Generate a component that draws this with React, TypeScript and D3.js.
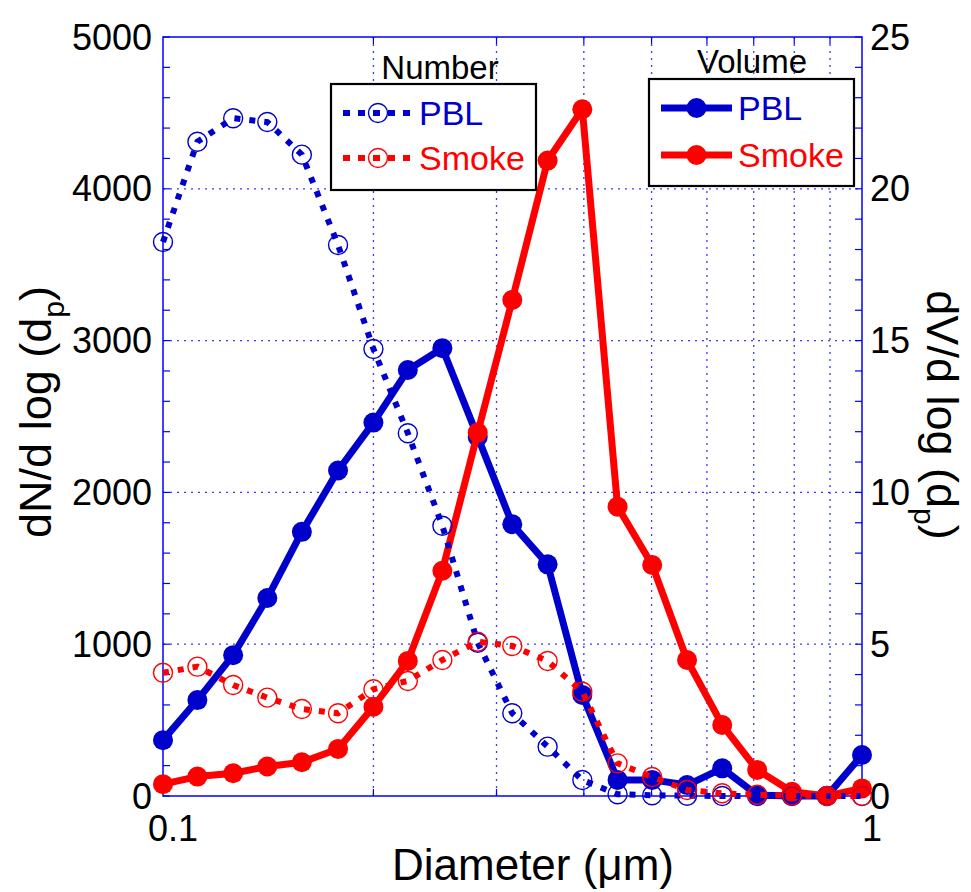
import React, { useEffect, useRef } from "react";
import * as d3 from "d3";

// particle diameters (um), 20 bins per decade
const diameters = [
  0.1, 0.112, 0.126, 0.141, 0.158, 0.178, 0.2, 0.224, 0.251, 0.282, 0.316,
  0.355, 0.398, 0.447, 0.501, 0.562, 0.631, 0.708, 0.794, 0.891, 1.0,
];

// dN/dlog(dp) - left axis
const numberPBL = [
  3650, 4310, 4465, 4440, 4225, 3630, 2945, 2390, 1780, 1010, 545, 325, 105,
  12, 5, 2, 0, 0, 0, 0, 0,
];
const numberSmoke = [
  812, 852, 731, 648, 573, 545, 703, 758, 896, 1017, 988, 889, 687, 215, 125,
  40, 18, 8, 3, 0, 0,
];

// dV/dlog(dp) - right axis
const volumePBL = [
  1.84, 3.16, 4.64, 6.52, 8.7, 10.72, 12.3, 14.03, 14.75, 11.83, 8.95, 7.63,
  3.33, 0.53, 0.53, 0.36, 0.91, 0.03, 0, 0, 1.35,
];
const volumeSmoke = [
  0.39, 0.64, 0.75, 0.97, 1.11, 1.55, 2.94, 4.45, 7.42, 11.97, 16.34, 20.93,
  22.62, 9.53, 7.61, 4.48, 2.34, 0.86, 0.14, 0, 0.25,
];

const leftTicks = [0, 1000, 2000, 3000, 4000, 5000];
const rightTicks = [0, 5, 10, 15, 20, 25];
const xMinor = [0.2, 0.3, 0.4, 0.5, 0.6, 0.7, 0.8, 0.9];

const BLUE = "#0000cc";
const RED = "#ff0000";
const AXIS = "#0000ff";
const FONT = "'Liberation Sans', Arial, Helvetica, sans-serif";

const App = () => {
  const ref = useRef<SVGSVGElement>(null);

  useEffect(() => {
    const svg = d3.select(ref.current);
    svg.selectAll("*").remove();

    const m = { left: 163, right: 862, top: 37, bottom: 796 };

    const x = d3.scaleLog().domain([0.1, 1]).range([m.left, m.right]);
    const yL = d3.scaleLinear().domain([0, 5000]).range([m.bottom, m.top]);
    const yR = d3.scaleLinear().domain([0, 25]).range([m.bottom, m.top]);

    // grid
    const grid = svg.append("g").attr("stroke", "#3a3aff").attr("stroke-width", 1.3)
      .attr("stroke-dasharray", "2,5");
    grid.selectAll(".gx").data(xMinor).enter().append("line")
      .attr("x1", (d) => x(d)).attr("x2", (d) => x(d))
      .attr("y1", m.top).attr("y2", m.bottom);
    grid.selectAll(".gy").data(leftTicks.slice(1, -1)).enter().append("line")
      .attr("x1", m.left).attr("x2", m.right)
      .attr("y1", (d) => yL(d)).attr("y2", (d) => yL(d));

    // box
    svg.append("rect")
      .attr("x", m.left).attr("y", m.top)
      .attr("width", m.right - m.left).attr("height", m.bottom - m.top)
      .attr("fill", "none").attr("stroke", AXIS).attr("stroke-width", 1.5);

    // minor y ticks (every 200 / every 1)
    const yMinor = d3.range(0, 5001, 200);
    const ticks = svg.append("g").attr("stroke", AXIS).attr("stroke-width", 1.2);
    ticks.selectAll(".tl").data(yMinor).enter().append("line")
      .attr("x1", m.left).attr("x2", m.left + 7)
      .attr("y1", (d) => yL(d)).attr("y2", (d) => yL(d));
    ticks.selectAll(".tr").data(yMinor).enter().append("line")
      .attr("x1", m.right).attr("x2", m.right - 7)
      .attr("y1", (d) => yL(d)).attr("y2", (d) => yL(d));
    ticks.selectAll(".tb").data(xMinor).enter().append("line")
      .attr("x1", (d) => x(d)).attr("x2", (d) => x(d))
      .attr("y1", m.bottom).attr("y2", m.bottom - 7);
    ticks.selectAll(".tt").data(xMinor).enter().append("line")
      .attr("x1", (d) => x(d)).attr("x2", (d) => x(d))
      .attr("y1", m.top).attr("y2", m.top + 7);

    // tick labels
    const labels = svg.append("g").attr("font-family", FONT).attr("font-size", 36)
      .attr("fill", "#000");
    labels.selectAll(".ll").data(leftTicks).enter().append("text")
      .attr("x", m.left - 11).attr("y", (d) => yL(d)).attr("dy", "0.35em")
      .attr("text-anchor", "end").text((d) => d);
    labels.selectAll(".rl").data(rightTicks).enter().append("text")
      .attr("x", m.right + 8).attr("y", (d) => yR(d)).attr("dy", "0.35em")
      .attr("text-anchor", "start").text((d) => d);
    labels.selectAll(".xl").data([0.1, 1]).enter().append("text")
      .attr("x", (d) => x(d) + 10).attr("y", m.bottom + 45)
      .attr("text-anchor", "middle").text((d) => d);

    // axis titles
    svg.append("text")
      .attr("x", 533).attr("y", 880).attr("text-anchor", "middle")
      .attr("font-family", FONT).attr("font-size", 44)
      .text("Diameter (\u03bcm)");

    const lt = svg.append("text")
      .attr("transform", "translate(51,412) rotate(-90)")
      .attr("text-anchor", "middle")
      .attr("font-family", FONT).attr("font-size", 45);
    lt.append("tspan").text("dN/d log (d");
    lt.append("tspan").attr("font-size", 30).attr("dy", 13).text("p");
    lt.append("tspan").attr("dy", -13).text(")");

    const rt = svg.append("text")
      .attr("transform", "translate(927,415) rotate(90)")
      .attr("text-anchor", "middle")
      .attr("font-family", FONT).attr("font-size", 45);
    rt.append("tspan").text("dV/d log (d");
    rt.append("tspan").attr("font-size", 30).attr("dy", 13).text("p");
    rt.append("tspan").attr("dy", -13).text(")");

    // series
    const solid = (vals: number[], color: string) => {
      const line = d3.line<number>().x((_, i) => x(diameters[i])).y((d) => yR(d));
      svg.append("path").datum(vals).attr("d", line)
        .attr("fill", "none").attr("stroke", color).attr("stroke-width", 7)
        .attr("stroke-linejoin", "round");
      svg.append("g").selectAll("circle").data(vals).enter().append("circle")
        .attr("cx", (_, i) => x(diameters[i])).attr("cy", (d) => yR(d))
        .attr("r", 10).attr("fill", color);
    };
    const dotted = (vals: number[], color: string) => {
      const line = d3.line<number>().x((_, i) => x(diameters[i])).y((d) => yL(d));
      svg.append("path").datum(vals).attr("d", line)
        .attr("fill", "none").attr("stroke", color).attr("stroke-width", 6)
        .attr("stroke-dasharray", "6,9");
      svg.append("g").selectAll("circle").data(vals).enter().append("circle")
        .attr("cx", (_, i) => x(diameters[i])).attr("cy", (d) => yL(d))
        .attr("r", 9.5).attr("fill", "none").attr("stroke", color)
        .attr("stroke-width", 1.4);
    };
    solid(volumePBL, BLUE);
    solid(volumeSmoke, RED);
    dotted(numberPBL, BLUE);
    dotted(numberSmoke, RED);

    // legends
    const legend = (
      bx: number, by: number, bw: number, bh: number, title: string,
      tx: number, ty: number, lx0: number, lx1: number, rows: number[],
      isDotted: boolean
    ) => {
      svg.append("text").attr("x", tx).attr("y", ty).attr("text-anchor", "middle")
        .attr("font-family", FONT).attr("font-size", 33).text(title);
      svg.append("rect").attr("x", bx).attr("y", by).attr("width", bw).attr("height", bh)
        .attr("fill", "#fff").attr("stroke", "#000").attr("stroke-width", 2.2);
      const items = [
        { name: "PBL", color: BLUE },
        { name: "Smoke", color: RED },
      ];
      items.forEach((it, k) => {
        const yy = rows[k];
        const mx = (lx0 + lx1) / 2;
        svg.append("line").attr("x1", lx0).attr("x2", lx1).attr("y1", yy).attr("y2", yy)
          .attr("stroke", it.color).attr("stroke-width", isDotted ? 6 : 7)
          .attr("stroke-dasharray", isDotted ? "7,8" : null);
        if (isDotted) {
          svg.append("circle").attr("cx", mx).attr("cy", yy).attr("r", 9.5)
            .attr("fill", "none").attr("stroke", it.color).attr("stroke-width", 1.4);
        } else {
          svg.append("circle").attr("cx", mx).attr("cy", yy).attr("r", 10)
            .attr("fill", it.color);
        }
        svg.append("text").attr("x", lx1 + 6).attr("y", yy).attr("dy", "0.36em")
          .attr("font-family", FONT).attr("font-size", 34).attr("fill", it.color)
          .text(it.name);
      });
    };
    legend(331, 84, 205, 106, "Number", 440, 79, 343, 413, [113, 158], true);
    legend(649, 79, 205, 107, "Volume", 752, 73, 661, 732, [108, 155], false);
  }, []);

  return (
    <svg
      ref={ref}
      width={971}
      height={892}
      style={{ position: "absolute", left: 0, top: 0, background: "#fff" }}
    />
  );
};

export default App;
